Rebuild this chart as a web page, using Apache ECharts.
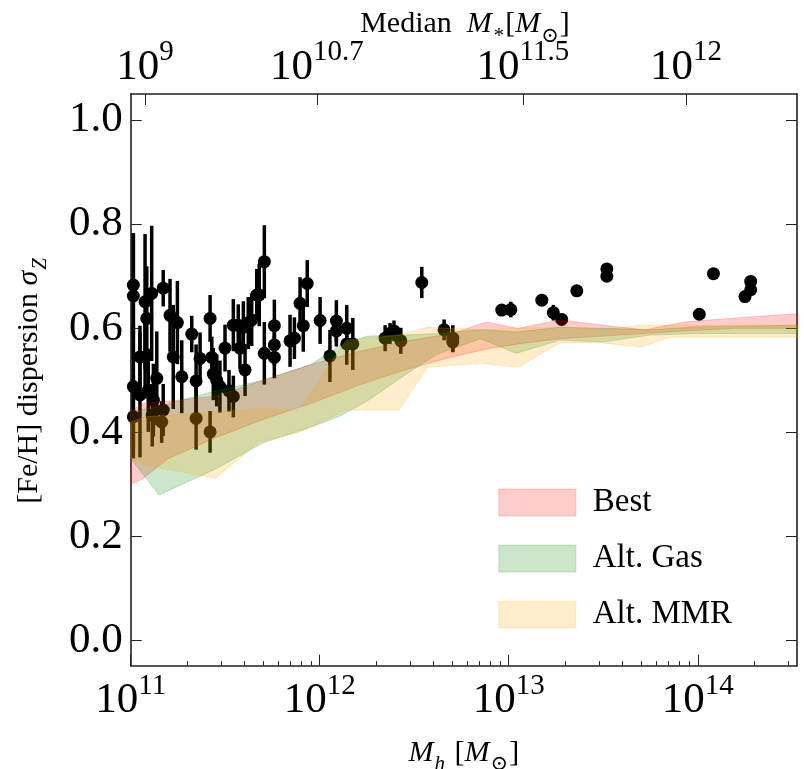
<!DOCTYPE html>
<html><head><meta charset="utf-8">
<script src="https://cdn.jsdelivr.net/npm/echarts@6/dist/echarts.min.js"></script>
<style>html,body{margin:0;padding:0;background:#fff}#c{width:804px;height:769px}</style>
</head><body><div id="c"></div>
<script>
const FONT = "'Liberation Serif', 'DejaVu Serif', serif";
// x positions are log10(Mh / Msun)
const xMin = 11.0, xMax = 14.525;
const yMin = -0.048, yMax = 1.05;
const haloTicks = [11, 12, 13, 14];
const haloTickLabels = ['11', '12', '13', '14'];
const stellarTickPos = [11.076, 11.985, 13.075, 13.938];
const stellarTickLabels = ['9', '10.7', '11.5', '12'];
const yTicks = [0, 0.2, 0.4, 0.6, 0.8, 1.0];
const legendNames = ['Best', 'Alt. Gas', 'Alt. MMR'];

// Band "Best"
const bestX  = [11.0, 11.06, 11.2, 11.45, 11.7, 11.95, 12.2, 12.45, 12.7, 12.88, 13.05, 13.27, 13.5, 13.72, 13.93, 14.2, 14.53];
const bestLo = [0.30, 0.31, 0.35, 0.39, 0.425, 0.455, 0.49, 0.52, 0.545, 0.56, 0.57, 0.58, 0.585, 0.59, 0.595, 0.60, 0.60];
const bestHi = [0.44, 0.455, 0.46, 0.47, 0.50, 0.53, 0.555, 0.575, 0.59, 0.612, 0.60, 0.616, 0.606, 0.597, 0.612, 0.62, 0.628];
// Band "Alt. Gas"
const gasX  = [11.0, 11.15, 11.45, 11.7, 11.95, 12.1, 12.25, 12.45, 12.62, 12.85, 13.04, 13.27, 13.5, 13.75, 14.0, 14.53];
const gasLo = [0.35, 0.28, 0.33, 0.38, 0.41, 0.43, 0.46, 0.51, 0.55, 0.58, 0.552, 0.577, 0.574, 0.587, 0.59, 0.59];
const gasHi = [0.44, 0.45, 0.48, 0.50, 0.53, 0.565, 0.585, 0.587, 0.59, 0.597, 0.593, 0.602, 0.60, 0.597, 0.603, 0.606];
// Band "Alt. MMR"
const mmrX  = [11.0, 11.08, 11.45, 11.68, 11.89, 12.14, 12.42, 12.57, 12.85, 13.05, 13.27, 13.5, 13.7, 13.86, 14.53];
const mmrLo = [0.35, 0.337, 0.312, 0.382, 0.40, 0.443, 0.443, 0.525, 0.533, 0.525, 0.572, 0.572, 0.564, 0.583, 0.583];
const mmrHi = [0.42, 0.43, 0.44, 0.445, 0.443, 0.577, 0.587, 0.602, 0.597, 0.60, 0.602, 0.597, 0.606, 0.606, 0.606];

// Observed points: log10 Mh, sigma, error half-length
const obsLogMh = [11.014,11.014,11.014,11.014,11.049,11.049,11.076,11.076,11.085,11.093,11.111,11.114,11.120,11.138,11.164,11.172,11.172,11.208,11.225,11.247,11.270,11.323,11.346,11.346,11.367,11.420,11.420,11.429,11.437,11.455,11.472,11.499,11.520,11.543,11.543,11.569,11.578,11.596,11.605,11.622,11.640,11.667,11.680,11.707,11.707,11.760,11.760,11.760,11.843,11.866,11.896,11.913,11.934,12.002,12.054,12.088,12.088,12.143,12.143,12.175,12.346,12.372,12.393,12.429,12.540,12.658,12.704,12.704,12.963,13.011,13.175,13.236,13.280,13.360,13.519,13.519,14.008,14.083,14.250,14.280,14.280];
const obsSigma = [0.683,0.662,0.488,0.430,0.545,0.472,0.651,0.545,0.619,0.481,0.667,0.433,0.462,0.504,0.420,0.677,0.443,0.625,0.545,0.611,0.507,0.589,0.499,0.427,0.542,0.619,0.401,0.544,0.512,0.500,0.488,0.562,0.480,0.469,0.606,0.606,0.562,0.602,0.520,0.610,0.616,0.664,0.664,0.728,0.552,0.605,0.568,0.544,0.576,0.581,0.648,0.605,0.686,0.615,0.547,0.614,0.595,0.600,0.570,0.570,0.581,0.590,0.595,0.576,0.688,0.597,0.581,0.574,0.635,0.636,0.654,0.630,0.617,0.672,0.714,0.700,0.627,0.705,0.661,0.674,0.690];
const obsErr   = [0.10,0.12,0.12,0.08,0.06,0.12,0.13,0.08,0.10,0.08,0.13,0.06,0.07,0.09,0.04,0.035,0.05,0.07,0.10,0.08,0.07,0.035,0.07,0.06,0.05,0.045,0.04,0.04,0.05,0.05,0.05,0.045,0.04,0.04,0.05,0.04,0.04,0.05,0.05,0.05,0.05,0.05,0.06,0.07,0.06,0.05,0.04,0.04,0.05,0.04,0.05,0.05,0.045,0.045,0.05,0.04,0.03,0.045,0.04,0.05,0.025,0.02,0.02,0.025,0.03,0.02,0.025,0.02,0,0.015,0,0.015,0,0,0,0,0,0,0,0,0];

// minor tick positions of a log axis (2..9 x 10^n)
const minorTicks = [];
for (let d = 11; d <= 14; d++) for (let k = 2; k <= 9; k++) { const v = d + Math.log10(k); if (v < xMax) minorTicks.push(v); }

const AX = '#222';
const supRich = {
  b: {fontFamily: FONT, fontSize: 43, color: '#000', verticalAlign: 'bottom'},
  s: {fontFamily: FONT, fontSize: 29, color: '#000', verticalAlign: 'bottom', padding: [0, 0, 22, 0]}
};
const nameRich = {
  n: {fontFamily: FONT, fontSize: 30, color: '#000', verticalAlign: 'bottom', padding: [0, 0, 7, 0]},
  i: {fontFamily: FONT, fontSize: 30, fontStyle: 'italic', color: '#000', verticalAlign: 'bottom', padding: [0, 0, 7, 0]},
  sub: {fontFamily: FONT, fontSize: 21, fontStyle: 'italic', color: '#000', verticalAlign: 'bottom', padding: [0, 2, 0, 1]},
  subu: {fontFamily: FONT, fontSize: 21, color: '#000', verticalAlign: 'bottom', padding: [0, 1, 0, 1]}
};

function bandSeries(name, xs, lo, hi, fill, edge) {
  return {
    type: 'custom', name: name, z: 5, xAxisIndex: 0, yAxisIndex: 0,
    data: xs.map((x, i) => [x, lo[i], hi[i]]),
    encode: {x: 0, y: [1, 2]},
    itemStyle: {color: fill},
    silent: true,
    renderItem: function (params, api) {
      if (params.dataIndex !== 0) return null;
      const pts = [];
      for (let i = 0; i < xs.length; i++) pts.push(api.coord([xs[i], hi[i]]));
      for (let i = xs.length - 1; i >= 0; i--) pts.push(api.coord([xs[i], lo[i]]));
      return {type: 'polygon', shape: {points: pts}, style: {fill: fill, stroke: edge, lineWidth: 1}};
    }
  };
}

const obs = obsLogMh.map((x, i) => [x, obsSigma[i], obsErr[i]]);

const option = {
  animation: false,
  backgroundColor: '#fff',
  grid: {left: 130.7, right: 7, top: 94, bottom: 103.3, containLabel: false, outerBoundsMode: 'none'},
  graphic: [
    {type: 'text', silent: true,
     style: {x: 465, y: 28, align: 'center', verticalAlign: 'middle', rich: nameRich,
             text: '{n|Median  }{i|M}{sub|*}{n|[}{i|M}{subu|⊙}{n|]}'}}
  ],
  xAxis: [
    {type: 'value', min: xMin, max: xMax, position: 'bottom',
     axisLine: {show: true, onZero: false, lineStyle: {color: AX, width: 1.6}},
     splitLine: {show: false},
     axisTick: {inside: true, length: 11, customValues: haloTicks, lineStyle: {color: AX, width: 1}},
     axisLabel: {customValues: haloTicks, margin: 6, rich: supRich,
       formatter: v => { const i = haloTicks.findIndex(t => Math.abs(t - v) < 1e-6); return '{b|10}{s|' + haloTickLabels[i] + '}'; }},
     name: '{i|M}{sub|h}{n| [}{i|M}{subu|⊙}{n|]}', nameLocation: 'middle', nameGap: 72,
     nameTextStyle: {rich: nameRich}},
    {type: 'value', min: xMin, max: xMax, position: 'bottom',
     axisLine: {show: false, onZero: false}, splitLine: {show: false}, axisLabel: {show: false},
     axisTick: {inside: true, length: 4.5, customValues: minorTicks, lineStyle: {color: AX, width: 1}}},
    {type: 'value', min: xMin, max: xMax, position: 'top',
     axisLine: {show: true, onZero: false, lineStyle: {color: AX, width: 1.6}},
     splitLine: {show: false},
     axisTick: {inside: true, length: 11, customValues: stellarTickPos, lineStyle: {color: AX, width: 1}},
     axisLabel: {customValues: stellarTickPos, margin: 5, rich: supRich,
       formatter: v => { const i = stellarTickPos.findIndex(t => Math.abs(t - v) < 1e-6); return '{b|10}{s|' + stellarTickLabels[i] + '}'; }}}
  ],
  yAxis: [
    {type: 'value', min: yMin, max: yMax, position: 'left',
     axisLine: {show: true, onZero: false, lineStyle: {color: AX, width: 1.6}},
     splitLine: {show: false},
     axisTick: {inside: true, length: 11, customValues: yTicks, lineStyle: {color: AX, width: 1}},
     axisLabel: {customValues: yTicks, margin: 8, fontFamily: FONT, fontSize: 43, color: '#000', formatter: v => v.toFixed(1)},
     name: '{n|[Fe/H] dispersion }{i|σ}{sub|Z}', nameLocation: 'middle', nameGap: 80,
     nameTextStyle: {rich: nameRich}},
    {type: 'value', min: yMin, max: yMax, position: 'right',
     axisLine: {show: true, onZero: false, lineStyle: {color: AX, width: 1.6}},
     splitLine: {show: false}, axisLabel: {show: false},
     axisTick: {inside: true, length: 11, customValues: yTicks, lineStyle: {color: AX, width: 1}}}
  ],
  legend: {
    orient: 'vertical', left: 493, top: 481, itemWidth: 77, itemHeight: 27, itemGap: 23,
    selectedMode: false,
    textStyle: {fontFamily: FONT, fontSize: 33, color: '#000', padding: [0, 0, 0, 12]},
    data: [
      {name: legendNames[0], icon: 'rect', itemStyle: {color: 'rgba(255,0,0,0.2)', borderColor: 'rgba(255,0,0,0.12)', borderWidth: 1.5}},
      {name: legendNames[1], icon: 'rect', itemStyle: {color: 'rgba(0,128,0,0.2)', borderColor: 'rgba(0,128,0,0.12)', borderWidth: 1.5}},
      {name: legendNames[2], icon: 'rect', itemStyle: {color: 'rgba(255,165,0,0.2)', borderColor: 'rgba(255,165,0,0.12)', borderWidth: 1.5}}
    ]
  },
  series: [
    {type: 'custom', name: 'err', z: 1, xAxisIndex: 0, yAxisIndex: 0, data: obs, silent: true,
     encode: {x: 0, y: 1},
     renderItem: function (params, api) {
       const x = api.value(0), y = api.value(1), e = api.value(2);
       if (!e) return null;
       const a = api.coord([x, y + e]), b = api.coord([x, y - e]);
       return {type: 'line', shape: {x1: a[0], y1: a[1], x2: b[0], y2: b[1]}, style: {stroke: '#000', lineWidth: 3.5}};
     }},
    {type: 'scatter', name: 'obs', z: 1, xAxisIndex: 0, yAxisIndex: 0, data: obs.map(d => [d[0], d[1]]),
     symbol: 'circle', symbolSize: 13, itemStyle: {color: '#000', opacity: 1}, silent: true},
    bandSeries(legendNames[0], bestX, bestLo, bestHi, 'rgba(255,0,0,0.2)', 'rgba(255,0,0,0.2)'),
    bandSeries(legendNames[1], gasX, gasLo, gasHi, 'rgba(0,128,0,0.2)', 'rgba(0,128,0,0.2)'),
    bandSeries(legendNames[2], mmrX, mmrLo, mmrHi, 'rgba(255,165,0,0.2)', 'rgba(255,165,0,0.2)')
  ]
};
const chart = echarts.init(document.getElementById('c'), null, {renderer: 'canvas'});
chart.setOption(option);
</script></body></html>
